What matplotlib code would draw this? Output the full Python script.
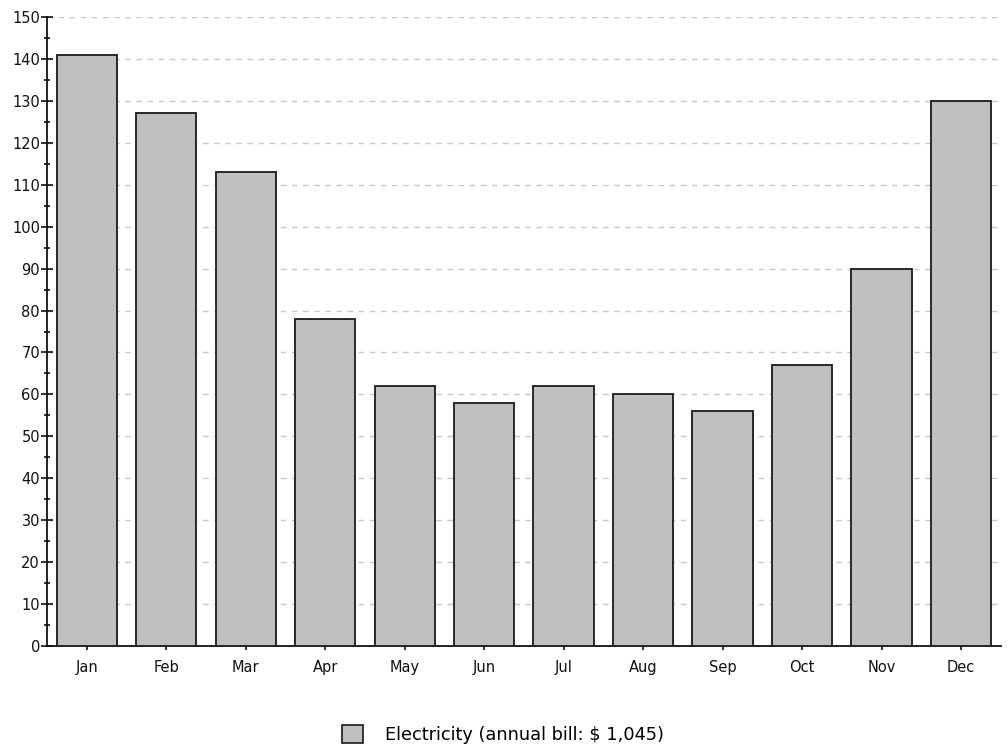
import numpy as np
import matplotlib
matplotlib.use('Agg')
import matplotlib.pyplot as plt
from matplotlib.ticker import MultipleLocator
from matplotlib.patches import Patch

# ---------- data ----------
months = ['Jan', 'Feb', 'Mar', 'Apr', 'May', 'Jun',
          'Jul', 'Aug', 'Sep', 'Oct', 'Nov', 'Dec']
electricity = [141, 127, 113, 78, 62, 58, 62, 60, 56, 67, 90, 130]
legend_label = 'Electricity (annual bill: $ 1,045)'

# ---------- figure ----------
plt.rcParams['font.family'] = ['DejaVu Sans']
fig = plt.figure(figsize=(10.08, 7.5), dpi=100)
ax = fig.add_axes([0.0466, 0.1387, 0.9464, 0.8386])

x = np.arange(len(months))
ax.bar(x, electricity, width=0.76, color='#c0c0c0', edgecolor='#1a1a1a',
       linewidth=1.3, zorder=3)

ax.set_xlim(-0.5, len(months) - 0.5)
ax.set_ylim(0, 150)
ax.yaxis.set_major_locator(MultipleLocator(10))
ax.yaxis.set_minor_locator(MultipleLocator(5))
ax.set_xticks(x)
ax.set_xticklabels(months)

ax.grid(axis='y', which='major', linestyle=(0, (4, 4)), color='#c8c8c8',
        linewidth=1.0, zorder=0)

for side in ['top', 'right']:
    ax.spines[side].set_visible(False)
for side in ['left', 'bottom']:
    ax.spines[side].set_linewidth(1.3)
    ax.spines[side].set_color('#111111')

ax.tick_params(axis='y', which='major', direction='inout', length=8, width=1.2,
               labelsize=10.5, colors='#111111', pad=1)
ax.tick_params(axis='y', which='minor', direction='inout', length=5, width=1.2,
               colors='#111111')
ax.tick_params(axis='x', length=3, width=1.2, labelsize=10.5, colors='#111111',
               pad=7)

handle = Patch(facecolor='#c0c0c0', edgecolor='#1a1a1a', linewidth=1.2)
fig.legend([handle], [legend_label], loc='center', bbox_to_anchor=(0.499, 0.021),
           frameon=False, fontsize=12.8, handlelength=1.2, handleheight=1.2,
           handletextpad=1.2)

fig.savefig('out.png', dpi=100)
